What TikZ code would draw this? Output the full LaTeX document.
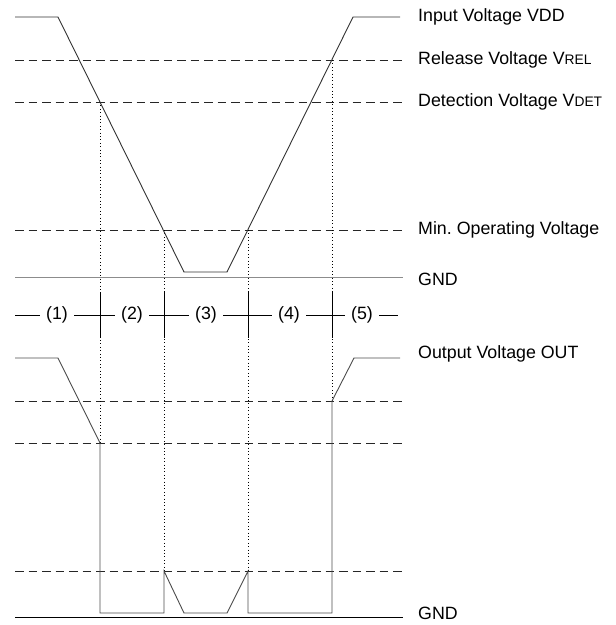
\documentclass[tikz,border=0pt]{standalone}
\usepackage{fontspec}
\setmainfont{Liberation Sans}
\frenchspacing
\newcommand{\smallcap}[1]{{\fontsize{13.8}{14}\selectfont #1}}
\begin{document}
\begin{tikzpicture}[x=1pt,y=-1pt,
    level/.style={black!85, line width=0.8pt, dash pattern=on 8.5pt off 5pt},
    guide/.style={black, line width=0.8pt, dash pattern=on 0.8pt off 2.6pt},
    wave/.style={black!70, line width=0.9pt},
    lbl/.style={anchor=west, inner sep=0pt, font=\fontsize{17.8}{20}\selectfont},
    phase/.style={fill=white, inner xsep=6pt, inner ysep=1pt, font=\fontsize{17.8}{20}\selectfont}]
  \useasboundingbox (0,0) rectangle (616,625);
  % level lines
  \draw[level] (15,60) -- (403,60);
  \draw[level] (15,102) -- (403,102);
  \draw[level] (15,230) -- (403,230);
  \draw[level] (15,401) -- (403,401);
  \draw[level] (15,443) -- (403,443);
  \draw[level] (15,571) -- (403,571);
  \draw[black!45, line width=0.9pt] (15,277) -- (403,277);
  \draw[black, line width=0.8pt] (15,617) -- (403,617);
  % guides
  \draw[guide] (100,102) -- (100,443);
  \draw[guide] (164,230) -- (164,571);
  \draw[guide] (248,230) -- (248,571);
  \draw[guide] (332,60) -- (332,401);
  % input voltage
  \draw[wave, black!80] (15,17) -- (58,17) -- (184,272) -- (227,272)
    -- (353,17) -- (400,17);
  % output voltage
  \draw[wave] (15,358) -- (58,358) -- (100,443) -- (100,613) -- (164,613)
    -- (164,571) -- (184,613) -- (227,613) -- (248,571) -- (248,613)
    -- (332,613) -- (332,401) -- (354,358) -- (400,358);
  % phases
  \draw[black, line width=0.8pt] (15,315) -- (398,315);
  \foreach \x in {100,164,248,332}
    \draw[black, line width=0.8pt] (\x,292) -- (\x,338);
  \draw
    (57,315) node[phase] (p1) {(1)}
    (132,315) node[phase] (p2) {(2)}
    (206,315) node[phase] (p3) {(3)}
    (289,315) node[phase] (p4) {(4)}
    (362,315) node[phase] (p5) {(5)};
  % labels
  \draw
    (418,17) node[lbl] (vdd) {Input Voltage VDD}
    (418,60) node[lbl] (vrel) {Release Voltage V\smallcap{REL}}
    (418,102) node[lbl] (vdet) {Detection Voltage V\smallcap{DET}}
    (418,230) node[lbl] (vmin) {Min. Operating Voltage}
    (418,279) node[lbl] (gnd1) {GND}
    (418,354) node[lbl] (out) {Output Voltage OUT}
    (418,613) node[lbl] (gnd2) {GND};
\end{tikzpicture}
\end{document}
